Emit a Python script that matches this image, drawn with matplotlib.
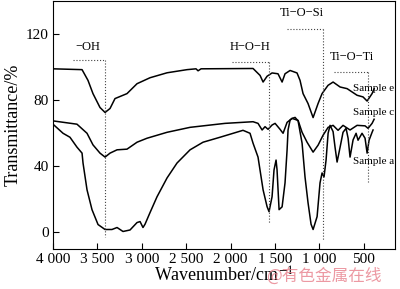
import numpy as np
import matplotlib
matplotlib.use("Agg")
import matplotlib.pyplot as plt

plt.rcParams['font.family'] = ['Liberation Serif', 'DejaVu Serif']
plt.rcParams['mathtext.fontset'] = 'stix'

# sample e (top curve)
wn_e = [4000, 3673, 3606, 3550, 3471, 3414, 3358, 3302, 3167, 3054, 2908, 2716,
        2491, 2390, 2367, 2333, 1748, 1669, 1635, 1590, 1534, 1467, 1421, 1388,
        1331, 1253, 1219, 1185, 1129, 1072, 1016, 971, 904, 847, 768, 689, 577,
        510, 464, 408, 385]
t_e = [99, 98.5, 92, 84, 75.6, 72.6, 75, 81, 84, 90, 93.6, 96.6,
       98.5, 99, 97.8, 99, 99.2, 95, 91, 94.5, 96.5, 96, 91, 96,
       98, 96.5, 92, 84, 78, 69.5, 78, 84, 89, 91, 88, 87, 83,
       82, 79.5, 84, 87]

# sample c (middle curve)
wn_c = [4000, 3730, 3617, 3550, 3471, 3414, 3358, 3279, 3167, 3054, 2942, 2716,
        2457, 2063, 1748, 1692, 1646, 1613, 1579, 1534, 1500, 1444, 1410, 1365,
        1309, 1241, 1196, 1140, 1072, 1016, 960, 903, 847, 791, 735, 656, 577,
        487, 453, 408, 385]
t_c = [67.5, 65.5, 60, 53, 48, 45.6, 48, 50, 50.4, 54.6, 57, 60.6,
       63.6, 66, 67, 66, 62, 64, 62.4, 65, 66, 62.4, 60, 66.6,
       69, 67.8, 60.6, 54.6, 48.6, 52.8, 58.8, 63.6, 64.8, 61.8, 64.8, 62, 64.8,
       64.5, 63, 66, 68.5]

# sample a (bottom curve)
wn_a = [4000, 3887, 3809, 3730, 3673, 3662, 3617, 3561, 3493, 3414, 3336, 3279,
        3212, 3133, 3054, 3020, 2987, 2964, 2908, 2829, 2716, 2604, 2457, 2311,
        2120, 1861, 1782, 1748, 1692, 1635, 1590, 1568, 1534, 1512, 1489, 1478,
        1455, 1421, 1388, 1365, 1354, 1331, 1309, 1275, 1241, 1196, 1163, 1129,
        1095, 1072, 1027, 994, 971, 949, 926, 903, 881, 847, 825, 802, 768, 735,
        701, 678, 656, 622, 588, 566, 521, 487, 464, 442, 408, 397]
t_a = [65.5, 60, 57.6, 51.6, 48, 42, 25.8, 13.8, 4.8, 1.8, 1.8, 3,
       0.6, 1.5, 6, 6.6, 3, 5, 12, 21.6, 33, 42, 50, 54.6,
       57.6, 61.8, 60, 54, 45.6, 25.8, 15.6, 12.6, 21.6, 37.8, 43.8, 38,
       13.8, 15.5, 30, 49.8, 62, 68, 69, 69.6, 67.5, 54, 33.6, 18,
       5, 1.8, 9.6, 30, 36, 33.6, 43.8, 60, 64.8, 61, 51.6, 42.6, 51.6, 60.6,
       63, 57, 45.6, 56, 60, 55.8, 60, 57, 48, 55.8, 60.6, 62]

# band annotations: label, label x, label y, line start x, line end x, line y, line bottom
bands = ["\u2212OH", "H\u2212O\u2212H", "Ti\u2212O\u2212Si", "Ti\u2212O\u2212Ti"]
band_lx = [3606, 1782, 1196, 640]
band_ly = [108.6, 108.6, 129, 102.6]
band_x0 = [3775, 1984, 1365, 836]
band_x1 = [3414, 1568, 960, 453]
band_y = [104.4, 103.2, 123, 97.2]
band_bot = [-3, 6, -5.4, 30.6]

samples = ["Sample e", "Sample c", "Sample a"]
sample_y = [87, 72.6, 43.2]

xticks = [4000, 3500, 3000, 2500, 2000, 1500, 1000, 500]
xticklabels = ["4 000", "3 500", "3 000", "2 500", "2 000", "1 500", "1 000", "500"]
yticks = [0, 40, 80, 120]

fig = plt.figure(figsize=(4, 2.89), dpi=100)
ax = fig.add_axes([0.1325, 0.1384, 0.855, 0.858])

for wn, t in [(wn_e, t_e), (wn_c, t_c), (wn_a, t_a)]:
    ax.plot(wn, t, color='black', lw=1.1)

for lab, lx, ly, x0, x1, y, yb in zip(bands, band_lx, band_ly, band_x0, band_x1, band_y, band_bot):
    ax.plot([x0, x1], [y, y], ls=':', color='#444444', lw=0.8)
    ax.plot([x1, x1], [y, yb], ls=':', color='#444444', lw=0.8)
    ax.text(lx, ly, lab, fontsize=9, ha='center', va='bottom')

for s, y in zip(samples, sample_y):
    ax.text(622, y, s, fontsize=8, ha='left', va='center')

ax.set_xlim(4000, 150)
ax.set_ylim(-10, 140)
ax.set_xticks(xticks)
ax.set_xticklabels(xticklabels)
ax.set_yticks(yticks)
ax.tick_params(direction='in', length=4, width=0.8, labelsize=11, pad=3)
ax.set_xlabel("Wavenumber/cm$^{-1}$", fontsize=13, labelpad=0)
ax.set_ylabel("Transmittance/%", fontsize=13, labelpad=3)

fig.text(0.81, 0.045, "@有色金属在线", fontsize=12, color='#e8808c', alpha=0.8,
         ha='center', va='center', family=['Noto Sans CJK SC', 'DejaVu Sans'])

fig.savefig("out.png", dpi=100)
